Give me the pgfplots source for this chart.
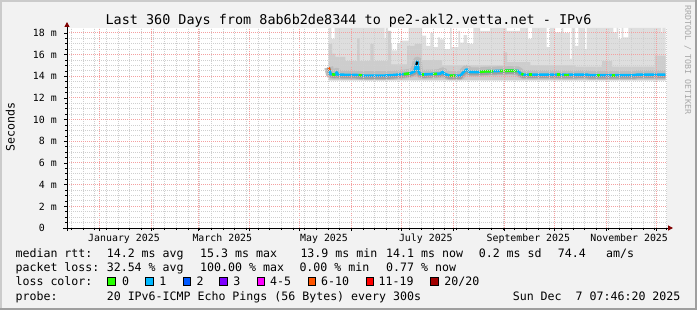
\documentclass[border=0pt]{standalone}
\usepackage{fontspec}
\setmainfont{DejaVu Sans Mono}
\usepackage{pgfplots}
\usepackage{pgfplotstable}
\pgfplotsset{compat=1.18}
\usetikzlibrary{arrows.meta}

\definecolor{bg}{HTML}{F2F2F2}
\definecolor{shadeA}{HTML}{CBCBCB}
\definecolor{shadeB}{HTML}{9F9F9F}
\definecolor{mgrid}{HTML}{F4A0A0}
\definecolor{mingrid}{HTML}{CFCFCF}
\definecolor{smokeA}{HTML}{DEDEDE}
\definecolor{smokeB}{HTML}{CDCDCD}
\definecolor{smokeC}{HTML}{BDBDBD}
\definecolor{smokeD}{HTML}{A0A0A0}
\definecolor{lc0}{HTML}{26FF00}
\definecolor{lc1}{HTML}{00B8FF}
\definecolor{lc2}{HTML}{0059FF}
\definecolor{lc3}{HTML}{7E00FF}
\definecolor{lc4}{HTML}{FF00FF}
\definecolor{lc6}{HTML}{FF5500}
\definecolor{lc11}{HTML}{FF0000}
\definecolor{lc20}{HTML}{A10000}
\definecolor{arrowc}{HTML}{7F0000}
\definecolor{credit}{HTML}{A8A8A8}

\newcommand\lf{\fontsize{11.6bp}{13bp}\selectfont}
\newcommand\tf{\fontsize{9.9bp}{11bp}\selectfont}

\pgfplotstableread{
day ms
157.0 14.83
157.6 14.50
158.0 14.22
161.0 14.15
161.8 14.37
162.6 14.15
174.0 14.12
178.0 14.06
190.0 14.06
196.0 14.12
202.0 14.20
206.0 14.28
208.5 14.45
209.5 15.00
210.2 15.40
210.8 14.50
211.6 14.25
213.8 14.18
220.0 14.22
224.0 14.25
225.4 14.43
226.6 14.22
228.8 14.10
230.0 14.06
236.0 14.06
237.8 14.37
239.8 14.65
241.5 14.40
247.0 14.40
251.0 14.46
259.8 14.50
266.0 14.52
270.8 14.50
271.8 14.28
274.0 14.15
290.0 14.15
300.0 14.14
312.0 14.15
314.0 14.10
330.0 14.10
340.0 14.10
342.0 14.15
359.0 14.15
}\median

\begin{document}
\begin{tikzpicture}[x=1bp,y=1bp]
\fill[bg] (0,0) rectangle (697,310);
\fill[shadeA] (0,0) rectangle (2,310);
\fill[shadeA] (0,308) rectangle (697,310);
\fill[shadeB] (0,0) rectangle (697,2);
\fill[shadeB] (695,0) rectangle (697,310);

\begin{axis}[
  at={(67bp,82bp)}, anchor=south west,
  scale only axis, width=600bp, height=200bp,
  xmin=0, xmax=360, ymin=0, ymax=18.46,
  enlargelimits=false,
  axis x line*=bottom, axis y line*=left,
  axis line style={line width=1bp, black},
  x axis line style={-{Triangle[length=5bp,width=5bp,color=arrowc]}, shorten >=-6bp, shorten <=-4bp},
  y axis line style={-{Triangle[length=5bp,width=5bp,color=arrowc]}, shorten >=-6bp, shorten <=-3bp},
  axis background/.style={fill=white},
  axis on top,
  tick align=outside,
  major tick length=3bp, minor tick length=2bp,
  tick style={black, line width=0.8bp},
  xtick={19.68,50.68,78.68,109.68,139.68,170.68,200.68,231.68,262.68,292.68,323.68,353.68},
  xticklabels={,,,,,,,,,,,},
  minor xtick={2.68,9.68,...,359.68},
  extra x ticks={34.2,93.2,154.2,215.3,276.8,337.3},
  extra x tick labels={January 2025,March 2025,May 2025,July 2025,September 2025,November 2025},
  extra x tick style={xmajorgrids=false, major tick length=0pt},
  x tick label style={font=\tf, anchor=base, inner sep=0pt, yshift=-13bp},
  ytick={0,2,4,6,8,10,12,14,16,18},
  yticklabels={0\phantom{xx},2 m,4 m,6 m,8 m,10 m,12 m,14 m,16 m,18 m},
  minor y tick num=3,
  y tick label style={font=\tf, anchor=east, inner sep=0pt, xshift=-7bp},
  xmajorgrids=true, ymajorgrids=true, xminorgrids=true, yminorgrids=true,
  major grid style={draw=mgrid, dash pattern=on 1bp off 1bp, line width=1bp},
  minor grid style={draw=mingrid, dash pattern=on 1bp off 1bp, line width=1bp},
]
% light smoke
\addplot[fill=smokeA, draw=none] coordinates {(157.0,13.6) (157.0,18.46) (158.6,18.46) (158.6,17.45) (160.6,17.45) (160.6,18.46) (190.6,18.46) (190.6,17.5) (191.2,17.5) (191.2,18.46) (192.6,18.46) (192.6,17.0) (195.0,17.0) (195.0,16.4) (198.0,16.4) (198.0,17.0) (199.8,17.0) (199.8,17.3) (205.0,17.3) (205.0,18.46) (213.0,18.46) (213.0,17.75) (215.4,17.75) (215.4,16.8) (218.0,16.8) (218.0,18.0) (220.0,18.0) (220.0,16.7) (222.5,16.7) (222.5,17.6) (223.8,17.6) (223.8,17.4) (226.5,17.4) (226.5,16.5) (229.8,16.5) (229.8,18.46) (230.8,18.46) (230.8,16.7) (234.8,16.7) (234.8,18.2) (235.8,18.2) (235.8,17.1) (238.0,17.1) (238.0,17.8) (240.0,17.8) (240.0,17.0) (243.8,17.0) (243.8,18.46) (247.8,18.46) (247.8,18.2) (253.8,18.2) (253.8,18.46) (263.8,18.46) (263.8,18.2) (271.8,18.2) (271.8,18.46) (276.6,18.46) (276.6,17.45) (279.0,17.45) (279.0,18.46) (287.8,18.46) (287.8,16.7) (289.8,16.7) (289.8,18.46) (292.8,18.46) (292.8,18.06) (296.8,18.06) (296.8,18.46) (297.8,18.46) (297.8,18.0) (301.8,18.0) (301.8,15.6) (302.8,15.6) (302.8,18.46) (304.8,18.46) (304.8,16.8) (306.8,16.8) (306.8,18.46) (310.8,18.46) (310.8,16.5) (311.8,16.5) (311.8,18.46) (327.8,18.46) (327.8,18.06) (329.8,18.06) (329.8,18.46) (330.8,18.46) (330.8,17.45) (332.8,17.45) (332.8,18.46) (333.8,18.46) (333.8,17.6) (336.8,17.6) (336.8,18.46) (356.6,18.46) (356.6,18.0) (357.2,18.0) (357.2,18.46) (359.2,18.46) (359.2,13.6)};
% medium smoke
\addplot[fill=smokeB, draw=none] coordinates {(157,13.65) (157,17.0) (159,17.0) (159,16.1) (161,16.1) (161,15.8) (167,15.8) (167,15.4) (174,15.4) (174,17.5) (175.5,17.5) (175.5,15.4) (182,15.4) (182,17.0) (184,17.0) (184,15.4) (192.5,15.4) (192.5,18.2) (194.5,18.2) (194.5,15.1) (204,15.1) (204,16.8) (208.5,16.8) (208.5,17.0) (213,17.0) (213,15.5) (225,15.5) (225,15.0) (262,15.0) (262,16.2) (264,16.2) (264,15.3) (278,15.3) (278,15.0) (305,15.0) (305,14.9) (321,14.9) (321,15.4) (327,15.4) (327,14.9) (352.8,14.9) (352.8,15.9) (359.2,15.9) (359.2,13.65)};
% dark smoke around median
\addplot[smokeC, line width=9bp, line join=round] table[x=day,y=ms] {\median};
\addplot[smokeD, line width=4bp, line join=round, yshift=-1.5bp] table[x=day,y=ms] {\median};
% median, coloured by loss
\addplot[lc1, line width=2.6bp, line join=round] table[x=day,y=ms] {\median};
\addplot[lc0, line width=2.6bp] coordinates {(159,14.18) (161,14.15)};
\addplot[lc0, line width=2.6bp] coordinates {(175,14.1) (177,14.09)};
\addplot[lc0, line width=2.6bp] coordinates {(202,14.2) (205.5,14.27)};
\addplot[lc0, line width=2.6bp] coordinates {(213,14.18) (214,14.18)};
\addplot[lc0, line width=2.6bp] coordinates {(219.5,14.22) (222,14.23)};
\addplot[lc0, line width=2.6bp] coordinates {(229.5,14.07) (233,14.06)};
\addplot[lc0, line width=2.6bp] coordinates {(247.8,14.41) (251,14.46) (255.8,14.48)};
\addplot[lc0, line width=2.6bp] coordinates {(259.8,14.5) (266,14.52) (269.8,14.5)};
\addplot[lc0, line width=2.6bp] coordinates {(272.5,14.24) (273.8,14.16)};
\addplot[lc0, line width=2.6bp] coordinates {(277,14.15) (279,14.15)};
\addplot[lc0, line width=2.6bp] coordinates {(293.8,14.15) (296,14.15)};
\addplot[lc0, line width=2.6bp] coordinates {(298,14.14) (301,14.14)};
\addplot[lc0, line width=2.6bp] coordinates {(317.8,14.1) (319.8,14.1)};
\addplot[lc0, line width=2.6bp] coordinates {(326.8,14.1) (328.8,14.1)};
\addplot[lc6, line width=2.6bp] coordinates {(157,14.83) (157.5,14.55)};
\addplot[black, line width=2bp] coordinates {(209.6,15.05) (210.2,15.35)};
\end{axis}

% title
\node[anchor=base, inner sep=0pt, font=\fontsize{13.45bp}{15bp}\selectfont] at (348.5,285.5) {Last 360 Days from 8ab6b2de8344 to pe2-akl2.vetta.net - IPv6};
% y label
\node[rotate=90, anchor=base, inner sep=0pt, font=\lf] at (14.5,183.3) {Seconds};
% credit
\node[rotate=-90, anchor=center, inner sep=0pt, text=credit, font=\fontsize{8.3bp}{9bp}\selectfont] at (687.7,250) {RRDTOOL / TOBI OETIKER};

% legend rows
\begin{scope}[every node/.style={anchor=base west, inner sep=0pt, font=\lf}]
\node at (15.4,52.3) {median rtt:};
\node at (106.6,52.3) {14.2 ms avg};
\node at (200.0,52.3) {15.3 ms max};
\node at (300.3,52.3) {13.9 ms min};
\node at (386.0,52.3) {14.1 ms now};
\node at (478.6,52.3) {0.2 ms sd};
\node at (557.6,52.3) {74.4};
\node at (606.0,52.3) {am/s};

\node at (15.4,38.3) {packet loss:};
\node at (106.6,38.3) {32.54 \% avg};
\node at (200.0,38.3) {100.00 \% max};
\node at (299.3,38.3) {0.00 \% min};
\node at (386.0,38.3) {0.77 \% now};

\node at (15.4,24.3) {loss color:};
\node at (121.9,24.3) {0};
\node at (159.2,24.3) {1};
\node at (196.5,24.3) {2};
\node at (233.2,24.3) {3};
\node at (269.9,24.3) {4-5};
\node at (320.9,24.3) {6-10};
\node at (378.5,24.3) {11-19};
\node at (444.2,24.3) {20/20};

\node at (15.4,10.0) {probe:};
\node at (106.6,10.0) {20 IPv6-ICMP Echo Pings (56 Bytes) every 300s};
\node at (512.6,10.0) {Sun Dec\ \ 7 07:46:20 2025};
\end{scope}

% legend colour boxes
\foreach \xx/\cc in {107.8/lc0,145.5/lc1,183.2/lc2,219.8/lc3,257.2/lc4,308.2/lc6,366.2/lc11,430.5/lc20}{
  \filldraw[fill=\cc, draw=black, line width=1bp] (\xx,24.5) rectangle ++(7.6,7.8);
}

\pgfresetboundingbox
\useasboundingbox (0,0) rectangle (697,310);
\end{tikzpicture}
\end{document}
